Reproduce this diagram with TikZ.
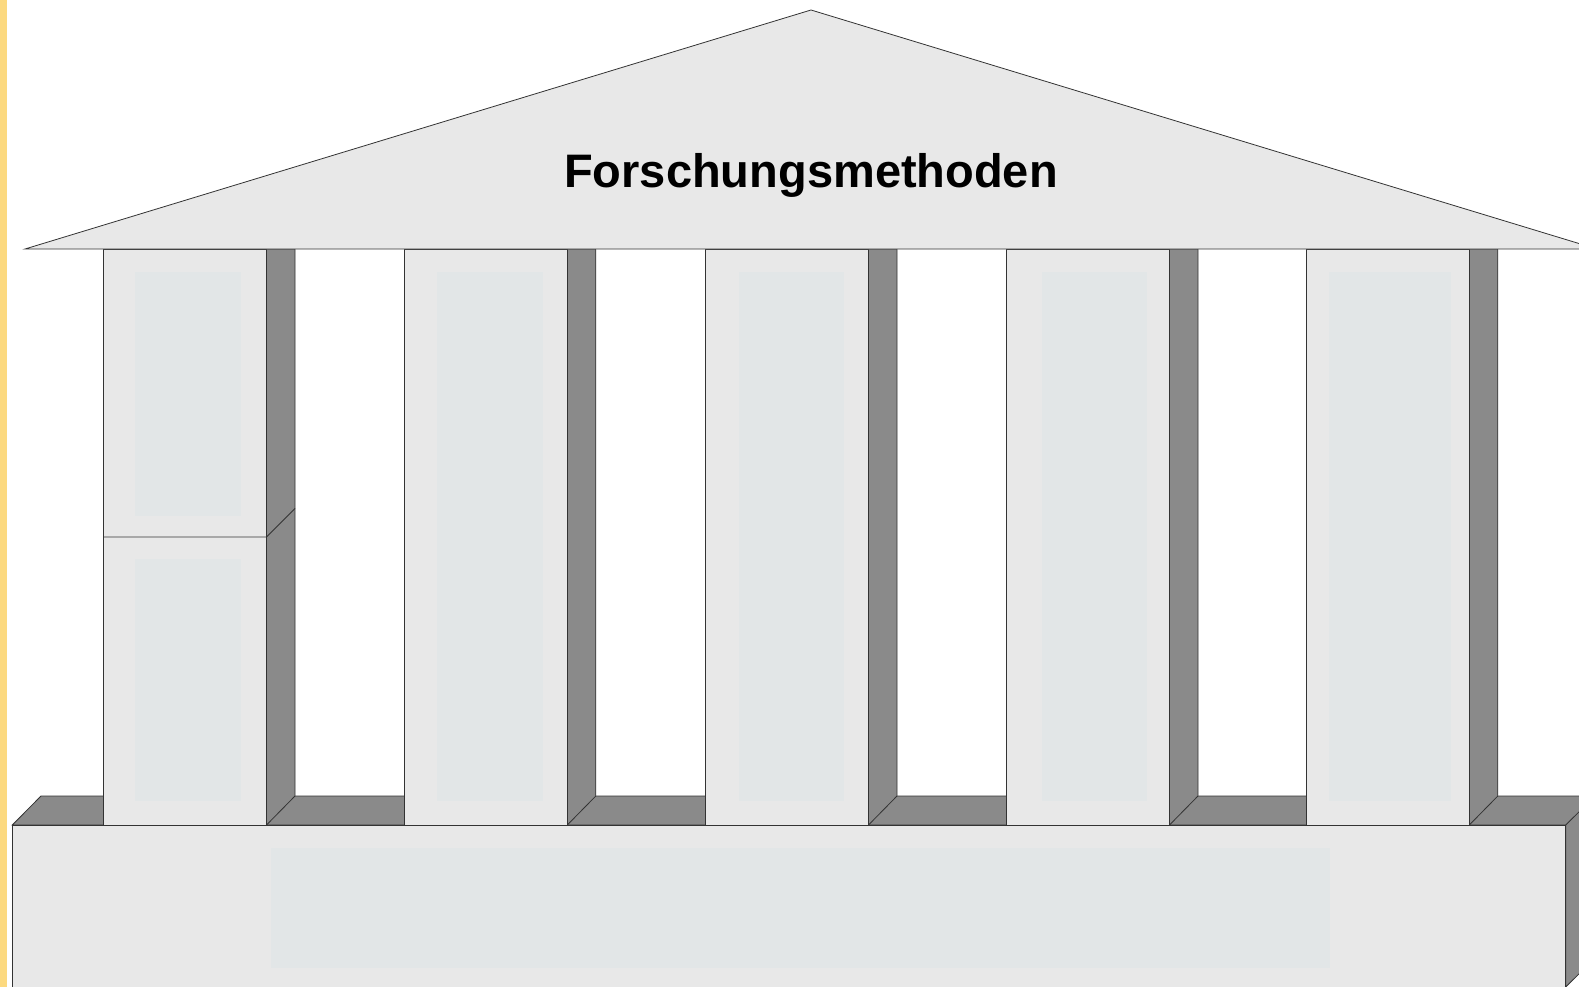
\documentclass[tikz,border=0pt]{standalone}
\usepackage{fontspec}
\setmainfont{Liberation Sans}
\definecolor{strip}{HTML}{FCD97F}
\definecolor{face}{HTML}{E8E8E8}
\definecolor{shade}{HTML}{8A8A8A}
\definecolor{panel}{HTML}{E2E6E7}
\definecolor{edge}{HTML}{333333}
\tikzset{
  outline/.style={draw=edge, line width=0.8pt, line join=miter},
  facepart/.style={outline, fill=face},
  shadepart/.style={outline, fill=shade},
  panelpart/.style={fill=panel, draw=none},
}
\begin{document}
\begin{tikzpicture}[x=1pt, y=-1pt]
  \useasboundingbox (0,0) rectangle (1579,987);
  \fill[white] (0,0) rectangle (1579,987);
  % side strip
  \fill[strip] (0,0) rectangle (7,987);

  % ledge behind the columns
  \path[shadepart] (12.3,825) -- (41,796) -- (1600,796) -- (1571,825) -- cycle;

  % base block
  \path[shadepart] (1565.7,825) -- (1595,796) -- (1595,958) -- (1565.7,987) -- cycle;
  \path[facepart] (12.3,825) rectangle (1565.7,990);
  \fill[panel] (271,847.5) rectangle (1330,968.3);

  % columns: left edge, face width, panel left/right
  \foreach \cx/\pl/\pr in {103.5/135/241, 404.3/437/543, 705.5/739/844, 1006.5/1042/1147, 1306.3/1329/1451}{
    \path[shadepart] (\cx+163,249) -- (\cx+191.5,249) -- (\cx+191.5,796) -- (\cx+163,825) -- cycle;
    \path[facepart] (\cx,249) rectangle (\cx+163,825);
  }
  % first column is split into two blocks
  \draw[outline] (103.5,537) -- (266.5,537) -- (295,508.5);
  \fill[panel] (135,272) rectangle (241,515.6);
  \fill[panel] (135,559) rectangle (241,800.6);
  \fill[panel] (437,272) rectangle (543,800.6);
  \fill[panel] (739,272) rectangle (844,800.6);
  \fill[panel] (1042,272) rectangle (1147,800.6);
  \fill[panel] (1329,272) rectangle (1451,800.6);

  % roof
  \path[facepart] (25,249) -- (811,10) -- (1597,249) -- cycle;
  \node[font=\bfseries\fontsize{47}{56}\selectfont, text=black, inner sep=0pt] (title) at (811,175) {Forschungsmethoden};
\end{tikzpicture}
\end{document}
